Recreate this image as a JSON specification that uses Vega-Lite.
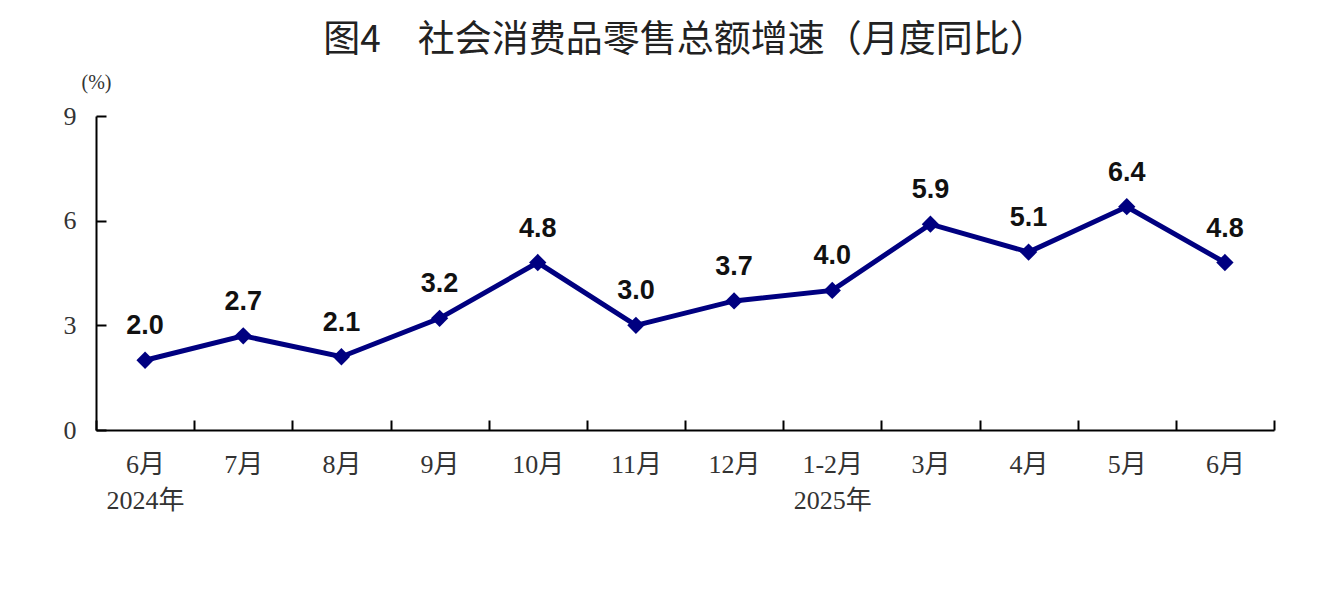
{
  "$schema": "https://vega.github.io/schema/vega-lite/v6.json",
  "width": 1178,
  "height": 314,
  "autosize": {"type": "none"},
  "padding": {"left": 96, "top": 116, "right": 66, "bottom": 177},
  "background": "white",
  "config": {"view": {"stroke": null}},
  "title": {
    "text": "图4　社会消费品零售总额增速（月度同比）",
    "font": "Noto Sans CJK SC",
    "fontSize": 37,
    "fontWeight": "normal",
    "color": "#222222",
    "anchor": "middle",
    "frame": "group",
    "offset": 12
  },
  "data": {
    "values": [
      {"m": "6月|2024年", "v": 2.0},
      {"m": "7月", "v": 2.7},
      {"m": "8月", "v": 2.1},
      {"m": "9月", "v": 3.2},
      {"m": "10月", "v": 4.8},
      {"m": "11月", "v": 3.0},
      {"m": "12月", "v": 3.7},
      {"m": "1-2月|2025年", "v": 4.0},
      {"m": "3月", "v": 5.9},
      {"m": "4月", "v": 5.1},
      {"m": "5月", "v": 6.4},
      {"m": "6月", "v": 4.8}
    ]
  },
  "encoding": {
    "x": {
      "field": "m",
      "type": "ordinal",
      "sort": null,
      "scale": {"type": "band", "paddingInner": 0, "paddingOuter": 0},
      "axis": {
        "title": null,
        "labelAngle": 0,
        "labelExpr": "isValid(datum.value) ? split(datum.value, '|') : ''",
        "labelFont": "Liberation Serif, Noto Sans CJK SC",
        "labelFontSize": 26,
        "labelColor": "#333333",
        "labelLineHeight": 36,
        "labelBaseline": "top",
        "labelPadding": 31,
        "tickBand": "extent",
        "tickSize": -10,
        "tickWidth": 2,
        "tickColor": "#000000",
        "domainColor": "#000000",
        "domainWidth": 2,
        "grid": false
      }
    },
    "y": {
      "field": "v",
      "type": "quantitative",
      "scale": {"domain": [0, 9]},
      "axis": {
        "title": "(%)",
        "titleAngle": 0,
        "titleX": 0,
        "titleY": -34,
        "titleAlign": "center",
        "titleBaseline": "middle",
        "titleFont": "Liberation Serif",
        "titleFontSize": 20,
        "titleFontWeight": "normal",
        "titleColor": "#333333",
        "values": [0, 3, 6, 9],
        "labelFont": "Liberation Serif",
        "labelFontSize": 26,
        "labelColor": "#333333",
        "labelPadding": 30,
        "tickSize": -10,
        "tickWidth": 2,
        "tickColor": "#000000",
        "domainColor": "#000000",
        "domainWidth": 2,
        "grid": false
      }
    }
  },
  "layer": [
    {"mark": {"type": "line", "color": "#000080", "strokeWidth": 5}},
    {"mark": {"type": "point", "shape": "diamond", "filled": true, "color": "#000080", "size": 300, "opacity": 1}},
    {
      "mark": {"type": "text", "font": "Liberation Sans", "fontWeight": "bold", "fontSize": 27, "color": "#111111", "dy": -34, "baseline": "middle"},
      "encoding": {"text": {"field": "v", "type": "quantitative", "format": ".1f"}}
    }
  ]
}
